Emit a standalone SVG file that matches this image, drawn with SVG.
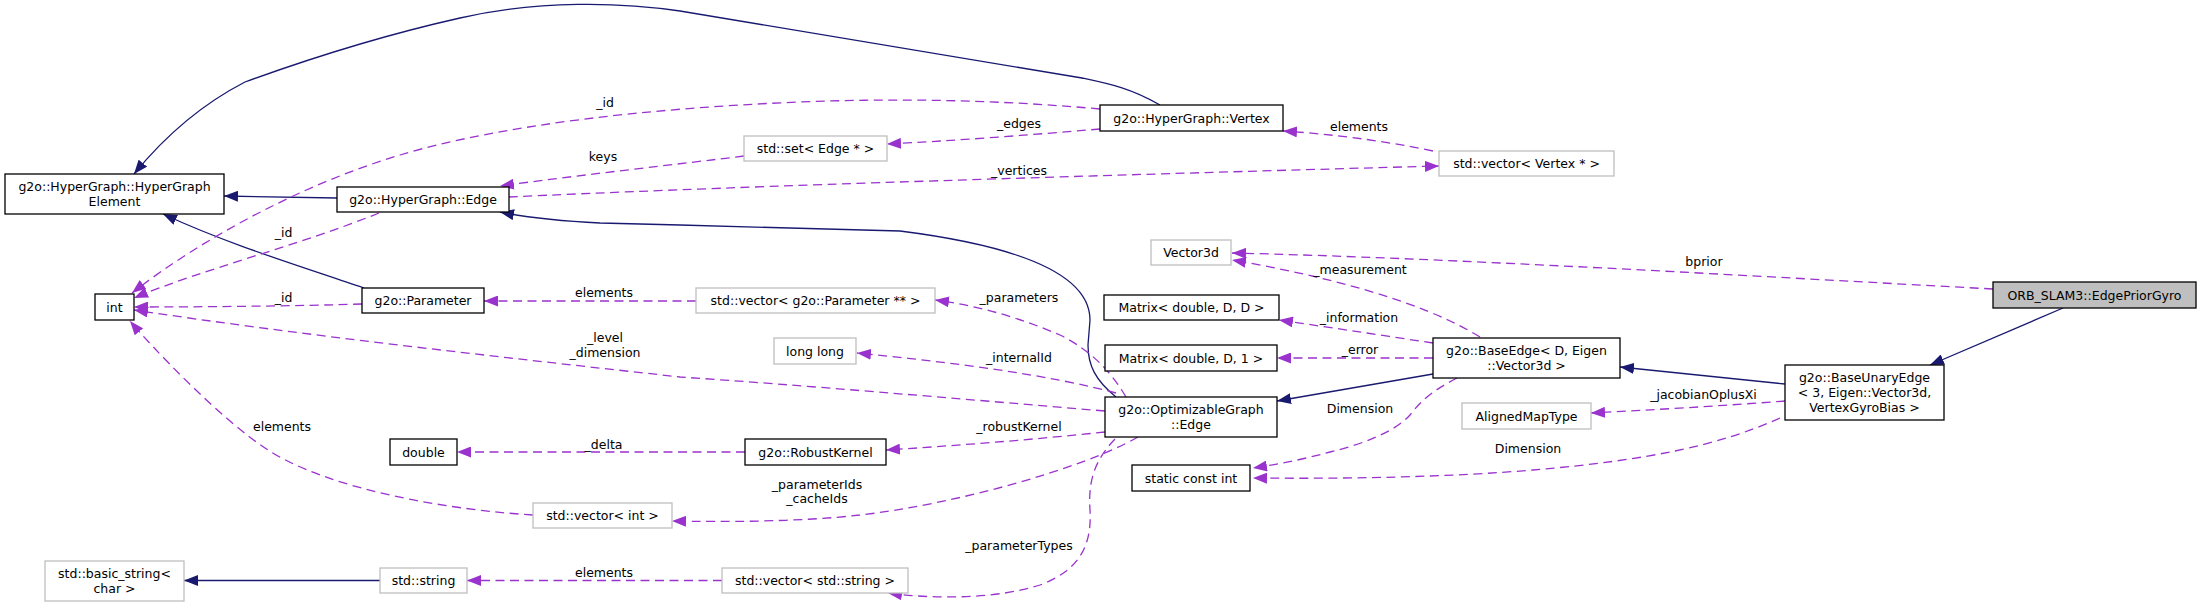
<svg xmlns="http://www.w3.org/2000/svg" width="2201" height="607" viewBox="0 0 2201 607">
<style>
text{font-family:"DejaVu Sans","Liberation Sans",sans-serif;font-size:12.5px;fill:#000;text-anchor:middle}
.nb{fill:#fff;stroke:#000;stroke-width:1.3}
.ng{fill:#fff;stroke:#bfbfbf;stroke-width:1.3}
.sel{fill:#bfbfbf;stroke:#000;stroke-width:1.3}
.inh{fill:none;stroke:#191970;stroke-width:1.3;marker-end:url(#an)}
.use{fill:none;stroke:#9a32cd;stroke-width:1.3;stroke-dasharray:9,5.5;marker-end:url(#ap)}
</style>
<defs>
<marker id="an" markerUnits="userSpaceOnUse" viewBox="0 0 14 11" refX="14" refY="5.5" markerWidth="14" markerHeight="11" orient="auto"><path d="M0,0 L14,5.5 L0,11 z" fill="#191970"/></marker>
<marker id="ap" markerUnits="userSpaceOnUse" viewBox="0 0 14 11" refX="14" refY="5.5" markerWidth="14" markerHeight="11" orient="auto"><path d="M0,0 L14,5.5 L0,11 z" fill="#9a32cd"/></marker>
</defs>
<rect width="2201" height="607" fill="#fff"/>
<g id="connectors">
<path class="inh" d="M1160,105 C1130,88 1110,84 1082,78 L680,11 C620,2 540,0 460,18 C380,36 300,62 245,82 C210,100 170,130 134,174"/>
<path class="inh" d="M337,198 L224,196"/>
<path class="inh" d="M364,288 C300,266 230,245 163,214"/>
<path class="inh" d="M1116,397 C1095,380 1088,365 1088,345 L1090,320 C1090,285 1050,250 900,231 L680,225 L600,223 C560,221 530,218 500,212"/>
<path class="inh" d="M1433,374 L1277,401"/>
<path class="inh" d="M1785,384 L1620,367"/>
<path class="inh" d="M2063,308 L1930,365"/>
<path class="inh" d="M380,580.5 L184,580.5"/>

<path class="use" d="M1100,109 C1000,100 900,98 800,102 C650,108 500,125 400,155 C300,185 200,240 132,293"/>
<text x="605" y="107">_id</text>
<path class="use" d="M744,156 C680,164 580,175 500,186"/>
<text x="603" y="161">keys</text>
<path class="use" d="M1100,129 C1030,135 950,141 887,144"/>
<text x="1019" y="128">_edges</text>
<path class="use" d="M1433,151 C1380,140 1330,134 1283,131"/>
<text x="1359" y="130.5">elements</text>
<path class="use" d="M509,197 C700,188 1000,178 1439,166"/>
<text x="1019" y="175">_vertices</text>
<path class="use" d="M379,213 C300,245 200,270 134,298"/>
<text x="283.5" y="237">_id</text>
<path class="use" d="M362,304 C300,306 200,307 134,307"/>
<text x="283.5" y="302">_id</text>
<path class="use" d="M696,301 L484,301"/>
<text x="604" y="297">elements</text>
<path class="use" d="M1105,411 C950,398 800,385 680,377 C500,357 300,335 134,310"/>
<text x="605" y="342">_level</text>
<text x="605" y="357">_dimension</text>
<path class="use" d="M1126,397 C1110,370 1090,350 1060,335 C1020,318 980,306 935,300"/>
<text x="1019" y="302">_parameters</text>
<path class="use" d="M1116,393 C1050,375 950,362 857,353"/>
<text x="1019" y="362">_internalId</text>
<path class="use" d="M1105,432 C1030,440 950,446 886,450"/>
<text x="1019" y="431">_robustKernel</text>
<path class="use" d="M745,452 L457,452"/>
<text x="603.5" y="449">_delta</text>
<path class="use" d="M1138,437 C1080,470 950,505 860,515 C800,522 720,522 672,521"/>
<text x="817" y="489">_parameterIds</text>
<text x="817" y="503">_cacheIds</text>
<path class="use" d="M533,515 C450,510 330,490 268,450 C220,419 150,345 130,321"/>
<text x="282" y="431">elements</text>
<path class="use" d="M1115,439 C1095,460 1088,480 1090,510 C1092,545 1080,570 1040,585 C1000,598 940,600 888,593"/>
<text x="1019" y="549.5">_parameterTypes</text>
<path class="use" d="M722,580.5 L467,580.5"/>
<text x="604" y="577">elements</text>
<path class="use" d="M1480,337 C1420,300 1320,275 1232,260"/>
<text x="1360" y="274">_measurement</text>
<path class="use" d="M1433,343 C1380,335 1320,326 1279,320"/>
<text x="1359" y="322">_information</text>
<path class="use" d="M1433,358 L1277,358"/>
<text x="1360" y="354">_error</text>
<path class="use" d="M1457,378 C1430,392 1420,402 1410,415 C1395,432 1360,445 1330,452 C1300,460 1280,464 1253,468"/>
<text x="1360" y="413">Dimension</text>
<path class="use" d="M1780,418 C1720,445 1650,460 1533,470 C1450,477 1350,479 1253,478"/>
<text x="1528" y="453">Dimension</text>
<path class="use" d="M1785,401 C1720,406 1650,410 1591,413"/>
<text x="1703.5" y="399">_jacobianOplusXi</text>
<path class="use" d="M1993,289 C1750,276 1450,258 1232,253"/>
<text x="1704" y="266">bprior</text>
</g>

<g id="n_hgelement"><rect class="nb" x="5" y="174" width="219" height="40"/><text x="114.5" y="191">g2o::HyperGraph::HyperGraph</text><text x="114.5" y="206">Element</text></g>
<g id="n_hgedge"><rect class="nb" x="337" y="187" width="172" height="25"/><text x="423" y="204">g2o::HyperGraph::Edge</text></g>
<g id="n_int"><rect class="nb" x="95" y="294" width="39" height="26"/><text x="114.5" y="311.5">int</text></g>
<g id="n_parameter"><rect class="nb" x="362" y="288" width="122" height="25"/><text x="423" y="305">g2o::Parameter</text></g>
<g id="n_setedge"><rect class="ng" x="744" y="136" width="143" height="25"/><text x="815.5" y="153">std::set&lt; Edge * &gt;</text></g>
<g id="n_vertex"><rect class="nb" x="1100" y="105" width="183" height="26"/><text x="1191.5" y="122.5">g2o::HyperGraph::Vertex</text></g>
<g id="n_vecvertex"><rect class="ng" x="1439" y="151" width="175" height="25"/><text x="1526.5" y="168">std::vector&lt; Vertex * &gt;</text></g>
<g id="n_vector3d"><rect class="ng" x="1151" y="240" width="80" height="25"/><text x="1191" y="257">Vector3d</text></g>
<g id="n_matdd"><rect class="nb" x="1104" y="295" width="175" height="25"/><text x="1191.5" y="312">Matrix&lt; double, D, D &gt;</text></g>
<g id="n_matd1"><rect class="nb" x="1105" y="345" width="172" height="26"/><text x="1191" y="362.5">Matrix&lt; double, D, 1 &gt;</text></g>
<g id="n_optedge"><rect class="nb" x="1105" y="397" width="172" height="40"/><text x="1191" y="414">g2o::OptimizableGraph</text><text x="1191" y="429">::Edge</text></g>
<g id="n_staticint"><rect class="nb" x="1132" y="465" width="118" height="26"/><text x="1191" y="482.5">static const int</text></g>
<g id="n_baseedge"><rect class="nb" x="1433" y="338" width="187" height="40"/><text x="1526.5" y="355">g2o::BaseEdge&lt; D, Eigen</text><text x="1526.5" y="370">::Vector3d &gt;</text></g>
<g id="n_baseunary"><rect class="nb" x="1785" y="365" width="159" height="55"/><text x="1864.5" y="382">g2o::BaseUnaryEdge</text><text x="1864.5" y="397">&lt; 3, Eigen::Vector3d,</text><text x="1864.5" y="412">VertexGyroBias &gt;</text></g>
<g id="n_edgepriorgyro"><rect class="sel" x="1993" y="282" width="203" height="26"/><text x="2094.5" y="299.5">ORB_SLAM3::EdgePriorGyro</text></g>
<g id="n_alignedmap"><rect class="ng" x="1462" y="403" width="129" height="26"/><text x="1526.5" y="420.5">AlignedMapType</text></g>
<g id="n_vecparam"><rect class="ng" x="696" y="288" width="239" height="25"/><text x="815.5" y="305">std::vector&lt; g2o::Parameter ** &gt;</text></g>
<g id="n_longlong"><rect class="ng" x="774" y="338" width="82" height="26"/><text x="815" y="355.5">long long</text></g>
<g id="n_robustkernel"><rect class="nb" x="745" y="439" width="141" height="26"/><text x="815.5" y="456.5">g2o::RobustKernel</text></g>
<g id="n_double"><rect class="nb" x="390" y="439" width="67" height="26"/><text x="423.5" y="456.5">double</text></g>
<g id="n_vecint"><rect class="ng" x="533" y="503" width="139" height="25"/><text x="602.5" y="520">std::vector&lt; int &gt;</text></g>
<g id="n_string"><rect class="ng" x="380" y="568" width="87" height="25"/><text x="423.5" y="585">std::string</text></g>
<g id="n_vecstring"><rect class="ng" x="722" y="568" width="186" height="25"/><text x="815" y="585">std::vector&lt; std::string &gt;</text></g>
<g id="n_basicstring"><rect class="ng" x="45" y="561" width="139" height="40"/><text x="114.5" y="578">std::basic_string&lt;</text><text x="114.5" y="593">char &gt;</text></g>
</svg>
